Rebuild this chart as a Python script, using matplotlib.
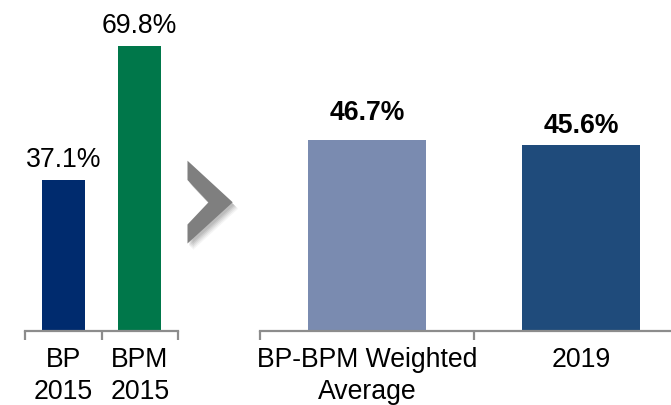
import matplotlib
matplotlib.use("Agg")
import matplotlib.pyplot as plt
from matplotlib.patches import Polygon

# ---- data ----
left_categories = ["BP\n2015", "BPM\n2015"]
left_values = [37.1, 69.8]
left_colors = ["#002B6E", "#00774A"]

right_categories = ["BP-BPM Weighted\nAverage", "2019"]
right_values = [46.7, 45.6]
right_colors = ["#7A8BB0", "#1F4B7B"]

W, H = 671, 406
fig = plt.figure(figsize=(W / 100, H / 100), dpi=100)
plt.rcParams['font.family'] = ['Liberation Sans', 'DejaVu Sans']

axis_color = "#8C8C8C"
base_y = 332
ppu = 4.08  # pixels per percent
ymax = 80
ax_h = ymax * ppu
FS = 19.2


def make_axes(x0, x1):
    ax = fig.add_axes([x0 / W, (H - base_y) / H, (x1 - x0) / W, ax_h / H])
    ax.set_ylim(0, ymax)
    ax.set_xlim(-0.5, 1.5)
    for s in ["top", "right", "left"]:
        ax.spines[s].set_visible(False)
    ax.spines["bottom"].set_color(axis_color)
    ax.spines["bottom"].set_linewidth(1.6)
    ax.set_yticks([])
    ax.set_xticks([0, 1])
    ax.set_xticks([-0.5, 0.5, 1.5], minor=True)
    ax.tick_params(axis="x", which="major", length=0, pad=10.5, labelsize=FS)
    ax.tick_params(axis="x", which="minor", length=6.5, width=1.6, color=axis_color, direction="out")
    ax.patch.set_alpha(0)
    return ax


# left chart
axL = make_axes(25, 178)
barsL = axL.bar(range(len(left_values)), left_values, width=0.56, color=left_colors)
axL.set_xticklabels(left_categories, linespacing=1.33)
for b, v in zip(barsL, left_values):
    axL.annotate(f"{v:.1f}%", (b.get_x() + b.get_width() / 2, v), xytext=(0, 10),
                 textcoords="offset points", ha="center", va="baseline", fontsize=FS)

# right chart
axR = make_axes(260, 688)
barsR = axR.bar(range(len(right_values)), right_values, width=0.556, color=right_colors)
axR.set_xticklabels(right_categories, linespacing=1.33)
offsets = [15.6, 9.4]
for b, v, o in zip(barsR, right_values, offsets):
    axR.annotate(f"{v:.1f}%", (b.get_x() + b.get_width() / 2, v), xytext=(0, o),
                 textcoords="offset points", ha="center", va="baseline", fontsize=FS,
                 fontweight="bold")

# chevron arrow
pts = [(187.5, 161.7), (232.7, 203.3), (187.5, 244.5), (187.5, 225.5),
       (208.5, 203.3), (187.5, 181.0)]


def to_fig(p, dx=0, dy=0):
    return [((x + dx) / W, 1 - (y + dy) / H) for x, y in p]


for i, a in enumerate([0.07, 0.07, 0.06, 0.05, 0.04]):
    d = 1.5 + i
    fig.add_artist(Polygon(to_fig(pts, d, d + 1), closed=True, transform=fig.transFigure,
                           facecolor="#000000", alpha=a, edgecolor="none", linewidth=0))
fig.add_artist(Polygon(to_fig(pts), closed=True, transform=fig.transFigure,
                       facecolor="#7F7F7F", edgecolor="none"))

fig.savefig("out.png", dpi=100)
